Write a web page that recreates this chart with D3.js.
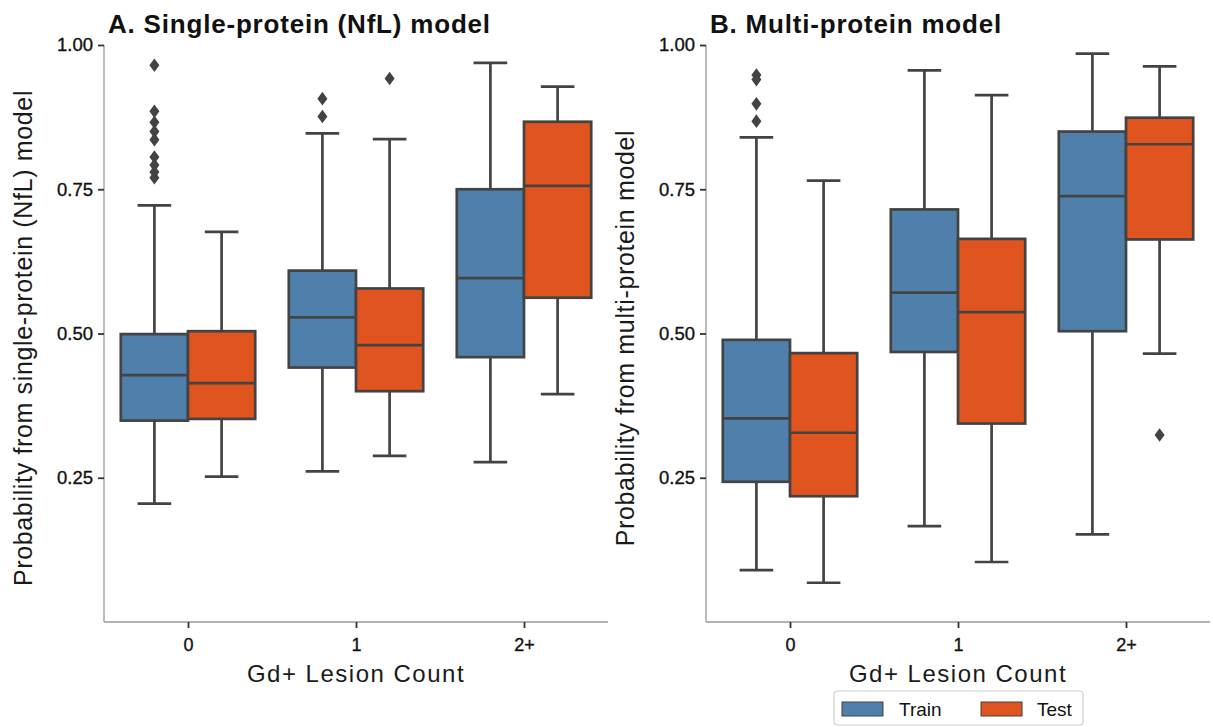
<!DOCTYPE html>
<html>
<head>
<meta charset="utf-8">
<script src="https://d3js.org/d3.v7.min.js"></script>
<style>
	body { margin: 0; background: #fff; }
	svg { display: block; font-family: "Liberation Sans", Arial, sans-serif; }
</style>
</head>
<body>
<div id="svg"></div>
<script>
const width = 1213;
const height = 727;

const categories = ["0", "1", "2+"];
const hues = ["Train", "Test"];

// [lower whisker, q1, median, q3, upper whisker]
const singleTrain = [
	[0.205, 0.349, 0.428, 0.499, 0.722],
	[0.261, 0.441, 0.528, 0.609, 0.847],
	[0.277, 0.459, 0.596, 0.750, 0.969],
];
const singleTest = [
	[0.252, 0.352, 0.414, 0.504, 0.676],
	[0.288, 0.400, 0.480, 0.578, 0.837],
	[0.395, 0.562, 0.756, 0.867, 0.928],
];
const singleTrainOut = [[0.965, 0.885, 0.866, 0.850, 0.836, 0.806, 0.792, 0.780, 0.770], [0.907, 0.876], []];
const singleTestOut = [[], [0.942], []];

const multiTrain = [
	[0.090, 0.243, 0.353, 0.489, 0.840],
	[0.166, 0.468, 0.571, 0.715, 0.956],
	[0.152, 0.504, 0.738, 0.850, 0.985],
];
const multiTest = [
	[0.068, 0.218, 0.328, 0.466, 0.765],
	[0.104, 0.344, 0.537, 0.664, 0.913],
	[0.465, 0.663, 0.828, 0.874, 0.963],
];
const multiTrainOut = [[0.948, 0.940, 0.898, 0.868], [], []];
const multiTestOut = [[], [], [0.324]];

const yTicks = [0.25, 0.5, 0.75, 1.0];

const COLOR_MAP = { Train: "#4f80ab", Test: "#e0541f" };
const EDGE = "#434343";

let svg = d3
	.select("#svg")
	.append("svg")
	.attr("width", width)
	.attr("height", height);

function drawPanel(opts) {
	const { left, right, title, ylabel, train, test, trainOut, testOut } = opts;
	const top = 45;
	const bottom = 622;

	const x = d3.scaleBand().domain(categories).range([left, right]).paddingInner(0.2).paddingOuter(0.1);
	const xCenter = d3.scalePoint().domain(categories).range([left, right]).padding(0.5);
	const xHue = d3.scaleBand().domain(hues).range([0, x.bandwidth()]);
	const y = d3.scaleLinear().domain([0, 1]).range([bottom, top]);

	const g = svg.append("g");

	// boxes
	const rows = [];
	categories.forEach((c, i) => {
		rows.push({ cat: c, hue: "Train", s: train[i], out: trainOut[i] });
		rows.push({ cat: c, hue: "Test", s: test[i], out: testOut[i] });
	});

	const box = g
		.selectAll(".box")
		.data(rows)
		.join("g")
		.attr("class", "box")
		.attr("transform", (d) => "translate(" + (x(d.cat) + xHue(d.hue)) + ",0)");

	const bw = xHue.bandwidth();
	const lw = 2.7;

	box.append("line")
		.attr("x1", bw / 2).attr("x2", bw / 2)
		.attr("y1", (d) => y(d.s[0])).attr("y2", (d) => y(d.s[1]))
		.attr("stroke", EDGE).attr("stroke-width", lw);
	box.append("line")
		.attr("x1", bw / 2).attr("x2", bw / 2)
		.attr("y1", (d) => y(d.s[3])).attr("y2", (d) => y(d.s[4]))
		.attr("stroke", EDGE).attr("stroke-width", lw);
	[0, 4].forEach((k) => {
		box.append("line")
			.attr("x1", bw / 4).attr("x2", (bw * 3) / 4)
			.attr("y1", (d) => y(d.s[k])).attr("y2", (d) => y(d.s[k]))
			.attr("stroke", EDGE).attr("stroke-width", lw);
	});
	box.append("rect")
		.attr("x", 0)
		.attr("width", bw)
		.attr("y", (d) => y(d.s[3]))
		.attr("height", (d) => y(d.s[1]) - y(d.s[3]))
		.attr("fill", (d) => COLOR_MAP[d.hue])
		.attr("stroke", EDGE).attr("stroke-width", lw);
	box.append("line")
		.attr("x1", 0).attr("x2", bw)
		.attr("y1", (d) => y(d.s[2])).attr("y2", (d) => y(d.s[2]))
		.attr("stroke", EDGE).attr("stroke-width", lw);

	// outliers as thin diamonds
	box.selectAll(".flier")
		.data((d) => d.out)
		.join("path")
		.attr("class", "flier")
		.attr("d", "M0,-6.8L5,0L0,6.8L-5,0Z")
		.attr("transform", (v) => "translate(" + bw / 2 + "," + y(v) + ")")
		.attr("fill", EDGE);

	// axes
	const yAxis = g.append("g")
		.attr("transform", "translate(" + left + ",0)")
		.call(d3.axisLeft(y).tickValues(yTicks).tickFormat(d3.format(".2f")).tickSize(6).tickPadding(5));
	yAxis.select(".domain").attr("d", "M0," + top + "V" + bottom).attr("stroke", "#9a9a9a").attr("stroke-width", 1.3);
	yAxis.selectAll(".tick line").attr("stroke", "#333").attr("stroke-width", 1.8);
	yAxis.selectAll(".tick text")
		.attr("font-size", 18.5).attr("fill", "#111").attr("stroke", "#111").attr("stroke-width", 0.35)
		.attr("font-family", "Liberation Sans");

	const xAxis = g.append("g")
		.attr("transform", "translate(0," + bottom + ")")
		.call(d3.axisBottom(xCenter).tickSize(6).tickPadding(10));
	xAxis.select(".domain").attr("d", "M" + left + ",0H" + right).attr("stroke", "#9a9a9a").attr("stroke-width", 1.3);
	xAxis.selectAll(".tick line").attr("stroke", "#333").attr("stroke-width", 1.8);
	xAxis.selectAll(".tick text")
		.attr("font-size", 18).attr("fill", "#111").attr("stroke", "#111").attr("stroke-width", 0.35)
		.attr("font-family", "Liberation Sans");

	// titles
	g.append("text")
		.attr("x", left + 4)
		.attr("y", 33)
		.attr("font-size", 26)
		.attr("font-weight", "bold")
		.attr("letter-spacing", 0.8)
		.attr("fill", "#111")
		.text(title);

	g.append("text")
		.attr("x", (left + right) / 2)
		.attr("y", 682)
		.attr("text-anchor", "middle")
		.attr("font-size", 24)
		.attr("letter-spacing", 1.5)
		.attr("fill", "#1a1a1a")
		.text("Gd+ Lesion Count");

	g.append("text")
		.attr("transform", "translate(" + (left - 72) + "," + 338 + ") rotate(-90)")
		.attr("text-anchor", "middle")
		.attr("font-size", 25)
		.attr("letter-spacing", 0.65)
		.attr("fill", "#1a1a1a")
		.text(ylabel);
}

drawPanel({
	left: 104, right: 608,
	title: "A. Single-protein (NfL) model",
	ylabel: "Probability from single-protein (NfL) model",
	train: singleTrain, test: singleTest,
	trainOut: singleTrainOut, testOut: singleTestOut,
});

drawPanel({
	left: 706, right: 1210,
	title: "B. Multi-protein model",
	ylabel: "Probability from multi-protein model",
	train: multiTrain, test: multiTest,
	trainOut: multiTrainOut, testOut: multiTestOut,
});

// legend
const legend = svg.append("g").attr("transform", "translate(834,691)");
legend.append("rect")
	.attr("width", 249).attr("height", 34).attr("rx", 3)
	.attr("fill", "#fff").attr("stroke", "#cfcfcf").attr("stroke-width", 1.2);
const items = legend.selectAll(".item")
	.data(hues)
	.join("g")
	.attr("class", "item")
	.attr("transform", (d, i) => "translate(" + (8 + i * 139) + ",0)");
items.append("rect")
	.attr("y", 11).attr("width", 41).attr("height", 14)
	.attr("fill", (d) => COLOR_MAP[d])
	.attr("stroke", EDGE).attr("stroke-width", 1);
items.append("text")
	.attr("x", (d, i) => (i === 0 ? 57 : 56))
	.attr("y", 25)
	.attr("font-size", 19)
	.attr("fill", "#111")
	.text((d) => d);
</script>
</body>
</html>
